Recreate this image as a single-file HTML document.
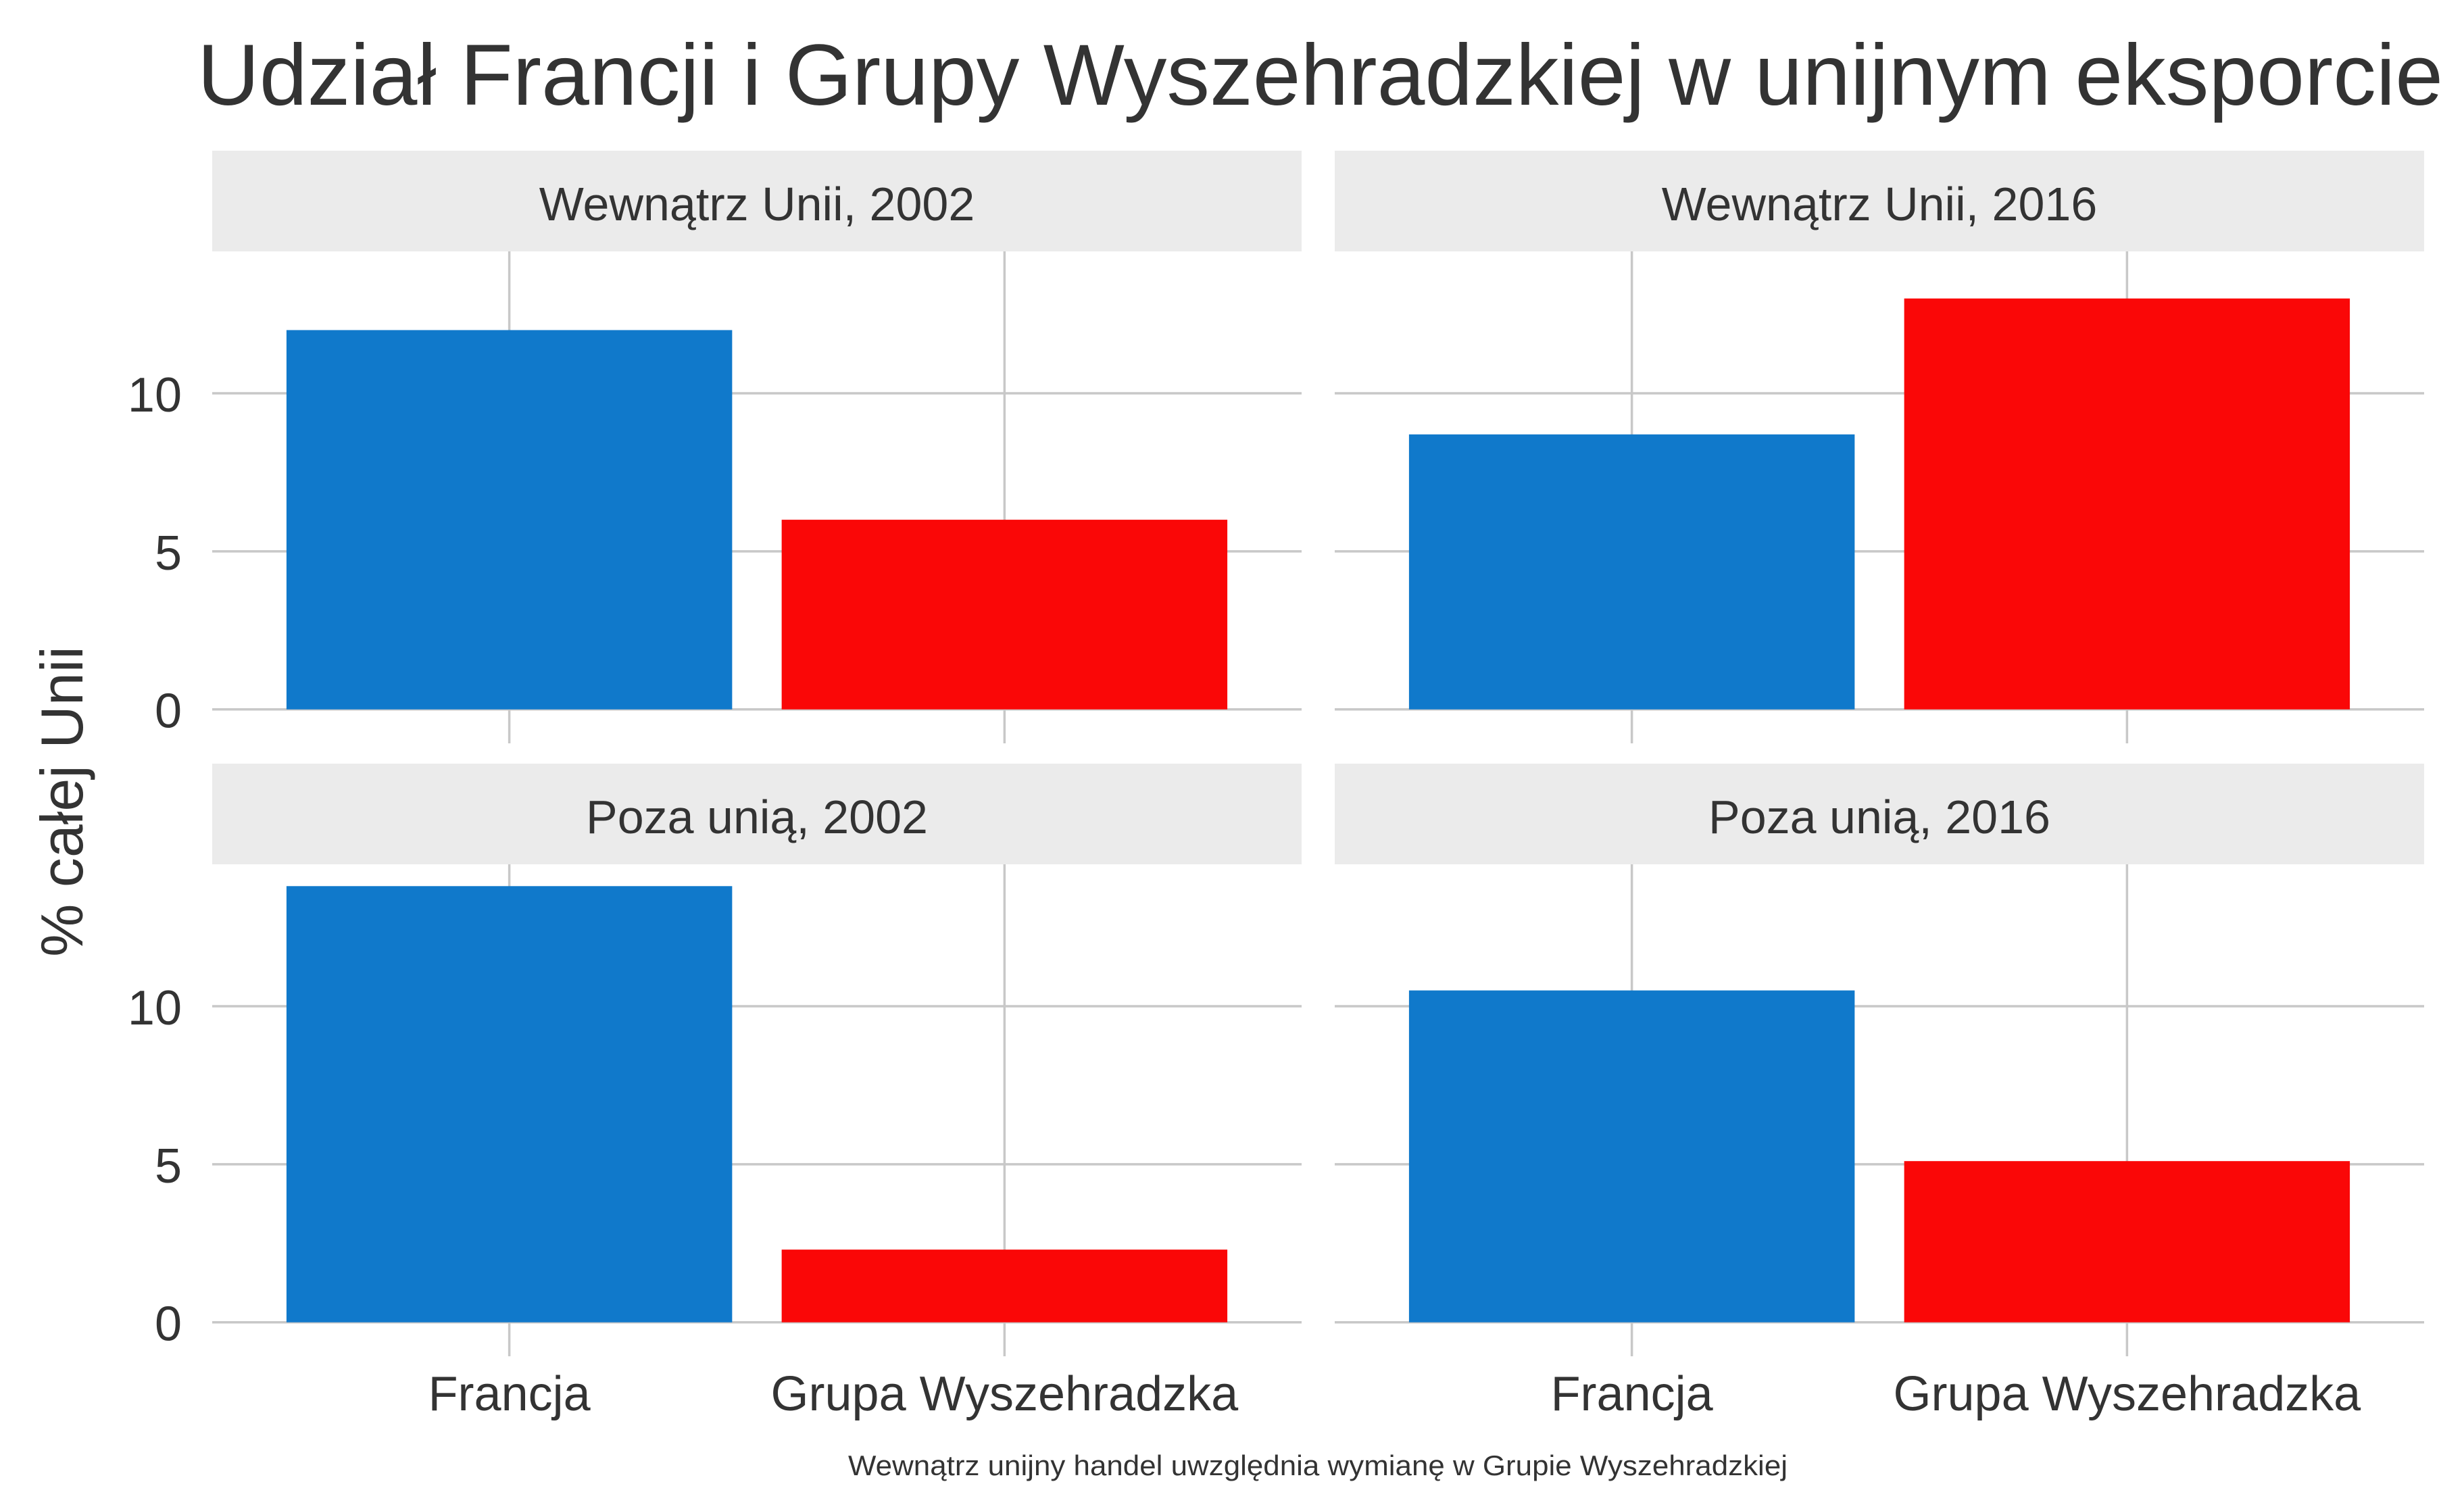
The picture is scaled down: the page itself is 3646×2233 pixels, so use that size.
<!DOCTYPE html>
<html><head><meta charset="utf-8"><style>
html,body{margin:0;padding:0;background:#fff;}
svg{display:block;font-family:"Liberation Sans",sans-serif;}
</style></head><body>
<svg id="chart" width="3646" height="2233" viewBox="0 0 3646 2233">
<text x="292" y="155" font-size="128" fill="#333" textLength="3323" lengthAdjust="spacingAndGlyphs">Udział Francji i Grupy Wyszehradzkiej w unijnym eksporcie</text>
<text transform="translate(122,1186) rotate(-90)" text-anchor="middle" font-size="88" fill="#333">% całej Unii</text>
<text x="1950" y="2183" text-anchor="middle" font-size="42" fill="#333" textLength="1390" lengthAdjust="spacingAndGlyphs">Wewnątrz unijny handel uwzględnia wymianę w Grupie Wyszehradzkiej</text>
<g id="panels"></g>
</svg>
<script>
const categories = ["Francja", "Grupa Wyszehradzka"];
const panelTitles = ["Wewnątrz Unii, 2002", "Wewnątrz Unii, 2016", "Poza unią, 2002", "Poza unią, 2016"];
const franceValues = [12.0, 8.7, 13.8, 10.5];
const v4Values = [6.0, 13.0, 2.3, 5.1];
const yTicks = [0, 5, 10];
const yTickLabels = ["0", "5", "10"];
const colors = ["#1079cb", "#fa0707"];

const NS = "http://www.w3.org/2000/svg";
const g = document.getElementById("panels");
function mk(tag, attrs, parent){
  const e = document.createElementNS(NS, tag);
  for (const k in attrs) e.setAttribute(k, attrs[k]);
  (parent||g).appendChild(e);
  return e;
}
const allVals = franceValues.concat(v4Values);
const dmax = Math.max(...allVals);
const yMin = -0.05*dmax, yMax = dmax*1.05;
const colX = [314, 1975], panelW = 1612;
const rowTop = [372, 1279], panelH = 710, stripH = 149;

panelTitles.forEach((title, i) => {
  const px = colX[i%2], pt = rowTop[Math.floor(i/2)];
  const y = v => pt + (yMax - v)/(yMax - yMin)*panelH;
  const nC = categories.length, span = nC - 1 + 1.2;
  const x = c => px + (c + 0.6)/span*panelW;
  const bw = 0.9/span*panelW;
  const pg = mk("g", {});
  
  
  const strip = mk("rect", {x:px, y:pt-stripH, width:panelW, height:stripH, fill:"#ebebeb"}, pg);
  
  
  const st = mk("text", {x:px+panelW/2, y:pt-stripH+103, "text-anchor":"middle", "font-size":"70", fill:"#333"}, pg);
  st.textContent = title;
  
  
  yTicks.forEach((t, k) => {
    const gl = mk("line", {x1:px, x2:px+panelW, y1:y(t), y2:y(t), stroke:"#c8c8c8", "stroke-width":"3.5"}, pg);
    
    
    if (i%2===0){
      const tl = mk("text", {x:269, y:y(t)+27, "text-anchor":"end", "font-size":"72", fill:"#333"}, pg);
      tl.textContent = yTickLabels[k];
      
      
    }
  });
  categories.forEach((c, k) => {
    const vl = mk("line", {x1:x(k), x2:x(k), y1:pt, y2:pt+panelH+18, stroke:"#c8c8c8", "stroke-width":"3.5"}, pg);
    
    
  });
  const vals = [franceValues[i], v4Values[i]];
  vals.forEach((v, k) => {
    const b = mk("rect", {x:x(k)-bw/2, y:y(v), width:bw, height:y(0)-y(v), fill:colors[k]}, pg);
    
    
  });
  if (i >= 2){
    categories.forEach((c, k) => {
      const xl = mk("text", {x:x(k), y:2087, "text-anchor":"middle", "font-size":"72", fill:"#333"}, pg);
      xl.textContent = c;
      
      
    });
  }
});
</script>
</body></html>
